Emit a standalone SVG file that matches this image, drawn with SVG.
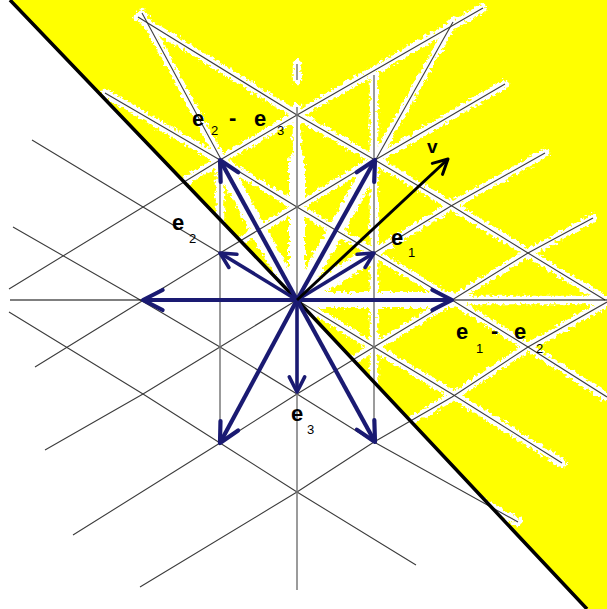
<svg xmlns="http://www.w3.org/2000/svg" width="607" height="609" viewBox="0 0 607 609">
<style>
.g{fill:none;stroke:#3c3c3c;stroke-width:1.1}
.vt{fill:none;stroke:#7a7a7a;stroke-width:1.5}
.h{fill:none;stroke:#fff;stroke-width:8.5;stroke-linecap:round;stroke-linejoin:round}
.ha{fill:none;stroke:#fff;stroke-width:16;stroke-linecap:round}
.al{stroke:#1a1a72;stroke-width:4.2;fill:none;marker-end:url(#hl)}
.as{stroke:#1a1a72;stroke-width:3.6;fill:none;marker-end:url(#hs)}
.e{font-family:"Liberation Sans",Arial,sans-serif;font-weight:bold;font-size:22px;fill:#000}
.s{font-family:"Liberation Sans",Arial,sans-serif;font-size:13px;fill:#000}
</style>
<defs>
<marker id="hl" markerUnits="userSpaceOnUse" viewBox="-26 -14 30 28" refX="0" refY="0" markerWidth="30" markerHeight="28" orient="auto" overflow="visible"><path d="M-19.6,-10 L0,0 L-19.6,10" fill="none" stroke="#1a1a72" stroke-width="4.2" stroke-linecap="round" stroke-linejoin="round"/></marker>
<marker id="hs" markerUnits="userSpaceOnUse" viewBox="-20 -12 24 24" refX="0" refY="0" markerWidth="24" markerHeight="24" orient="auto" overflow="visible"><path d="M-15.1,-7.7 L0,0 L-15.1,7.7" fill="none" stroke="#1a1a72" stroke-width="3.6" stroke-linecap="round" stroke-linejoin="round"/></marker>
<marker id="hv" markerUnits="userSpaceOnUse" viewBox="-20 -12 24 24" refX="0" refY="0" markerWidth="24" markerHeight="24" orient="auto" overflow="visible"><path d="M-14.5,-7.5 L0,0 L-14.5,7.5" fill="none" stroke="#000" stroke-width="3" stroke-linecap="round" stroke-linejoin="round"/></marker>
<filter id="rough" filterUnits="userSpaceOnUse" x="0" y="0" width="607" height="609"><feTurbulence type="fractalNoise" baseFrequency="0.3" numOctaves="2" seed="3"/><feDisplacementMap in="SourceGraphic" scale="8" xChannelSelector="R" yChannelSelector="G"/></filter>
</defs>
<rect width="607" height="609" fill="#fff"/>
<polygon id="yellow" points="10,0 607,0 607,609 587,609 297,300" fill="#ffff00"/>
<g id="halos" filter="url(#rough)">
<g class="h">
<polyline points="9,289 220,160 297,115 483,8"/>
<polyline points="35,367 142,301 220,253 297,207 375,160 505,84"/>
<polyline points="45,450 143,394 220,347 297,300 374,253 451,206 545,153"/>
<polyline points="73,535 220,443 297,394 374,347 452,300 528,253 593,218"/>
<polyline points="140,587 297,492 374,442 452,397 528,347 607,302"/>
<polyline points="138,17 297,115 375,160 452,206 528,253 605,300"/>
<polyline points="105,93 220,160 297,207 374,253 452,300 528,347 607,397"/>
<polyline points="32,140 143,207 220,253 297,300 374,347 452,394 562,463"/>
<polyline points="13,227 142,301 220,347 297,394 374,442 518,522"/>
<polyline points="9,312 143,394 220,443 297,492 416,565"/>
<line x1="220" y1="160" x2="220" y2="443"/>
<line x1="297" y1="107" x2="297" y2="590"/>
<line x1="297" y1="64" x2="297" y2="80"/>
<line x1="374" y1="75" x2="374" y2="442"/>
<line x1="10" y1="300" x2="607" y2="300"/>
<line x1="142" y1="13" x2="297" y2="300"/>
<line x1="453" y1="22" x2="297" y2="300"/>
</g>
<g class="ha">
<line x1="297" y1="300" x2="220" y2="160"/>
<line x1="297" y1="300" x2="375" y2="160"/>
<line x1="297" y1="300" x2="452" y2="300"/>
<line x1="297" y1="300" x2="375" y2="442"/>
<line x1="297" y1="300" x2="374" y2="253"/>
<line x1="297" y1="300" x2="220" y2="253"/>
<line x1="297" y1="300" x2="297" y2="392"/>
<line x1="297" y1="300" x2="297" y2="160"/>
</g>
</g>
<g id="grid">
<g class="g">
<polyline points="9,289 220,160 297,115 483,8"/>
<polyline points="35,367 142,301 220,253 297,207 375,160 505,84"/>
<polyline points="45,450 143,394 220,347 297,300 374,253 451,206 545,153"/>
<polyline points="73,535 220,443 297,394 374,347 452,300 528,253 593,218"/>
<polyline points="140,587 297,492 374,442 452,397 528,347 607,302"/>
<polyline points="138,17 297,115 375,160 452,206 528,253 605,300"/>
<polyline points="105,93 220,160 297,207 374,253 452,300 528,347 607,397"/>
<polyline points="32,140 143,207 220,253 297,300 374,347 452,394 562,463"/>
<polyline points="13,227 142,301 220,347 297,394 374,442 518,522"/>
<polyline points="9,312 143,394 220,443 297,492 416,565"/>
<line x1="10" y1="300" x2="607" y2="300" stroke="#000"/>
<line x1="142" y1="13" x2="297" y2="300"/>
<line x1="453" y1="22" x2="297" y2="300"/>
</g>
<g class="vt">
<line x1="220" y1="160" x2="220" y2="443"/>
<line x1="297" y1="107" x2="297" y2="590"/>
<line x1="297" y1="64" x2="297" y2="80"/>
<line x1="374" y1="75" x2="374" y2="442"/>
</g>
</g>
<polyline id="wall" points="10,0 297,300 587,609" fill="none" stroke="#000" stroke-width="3.5"/>
<g id="connectors">
<line class="al" x1="297" y1="300" x2="143" y2="300"/>
<line class="al" x1="297" y1="300" x2="452" y2="300"/>
<line class="al" x1="297" y1="300" x2="220" y2="160"/>
<line class="al" x1="297" y1="300" x2="375" y2="160"/>
<line class="al" x1="297" y1="300" x2="220" y2="443"/>
<line class="al" x1="297" y1="300" x2="375" y2="442"/>
<line class="as" x1="297" y1="300" x2="220" y2="253"/>
<line class="as" x1="297" y1="300" x2="374" y2="253"/>
<line class="as" x1="297" y1="300" x2="297" y2="392"/>
<line x1="297" y1="300" x2="448" y2="159" stroke="#000" stroke-width="3" marker-end="url(#hv)"/>
</g>
<g id="labels">
<g id="lbl-e2-e3"><text class="e" x="192" y="126">e</text><text class="s" x="211" y="135">2</text><text class="e" x="229" y="125">-</text><text class="e" x="254" y="126">e</text><text class="s" x="277" y="135">3</text></g>
<g id="lbl-e1-e2"><text class="e" x="456" y="339">e</text><text class="s" x="476" y="353">1</text><text class="e" x="491" y="338">-</text><text class="e" x="514" y="339">e</text><text class="s" x="536" y="353">2</text></g>
<g id="lbl-e2"><text class="e" x="172" y="230">e</text><text class="s" x="189" y="243">2</text></g>
<g id="lbl-e1"><text class="e" x="391" y="245">e</text><text class="s" x="408" y="257">1</text></g>
<g id="lbl-e3"><text class="e" x="291" y="421">e</text><text class="s" x="307" y="434">3</text></g>
<g id="lbl-v"><text class="e" x="427" y="153" style="font-size:19px">v</text></g>
</g>
</svg>
